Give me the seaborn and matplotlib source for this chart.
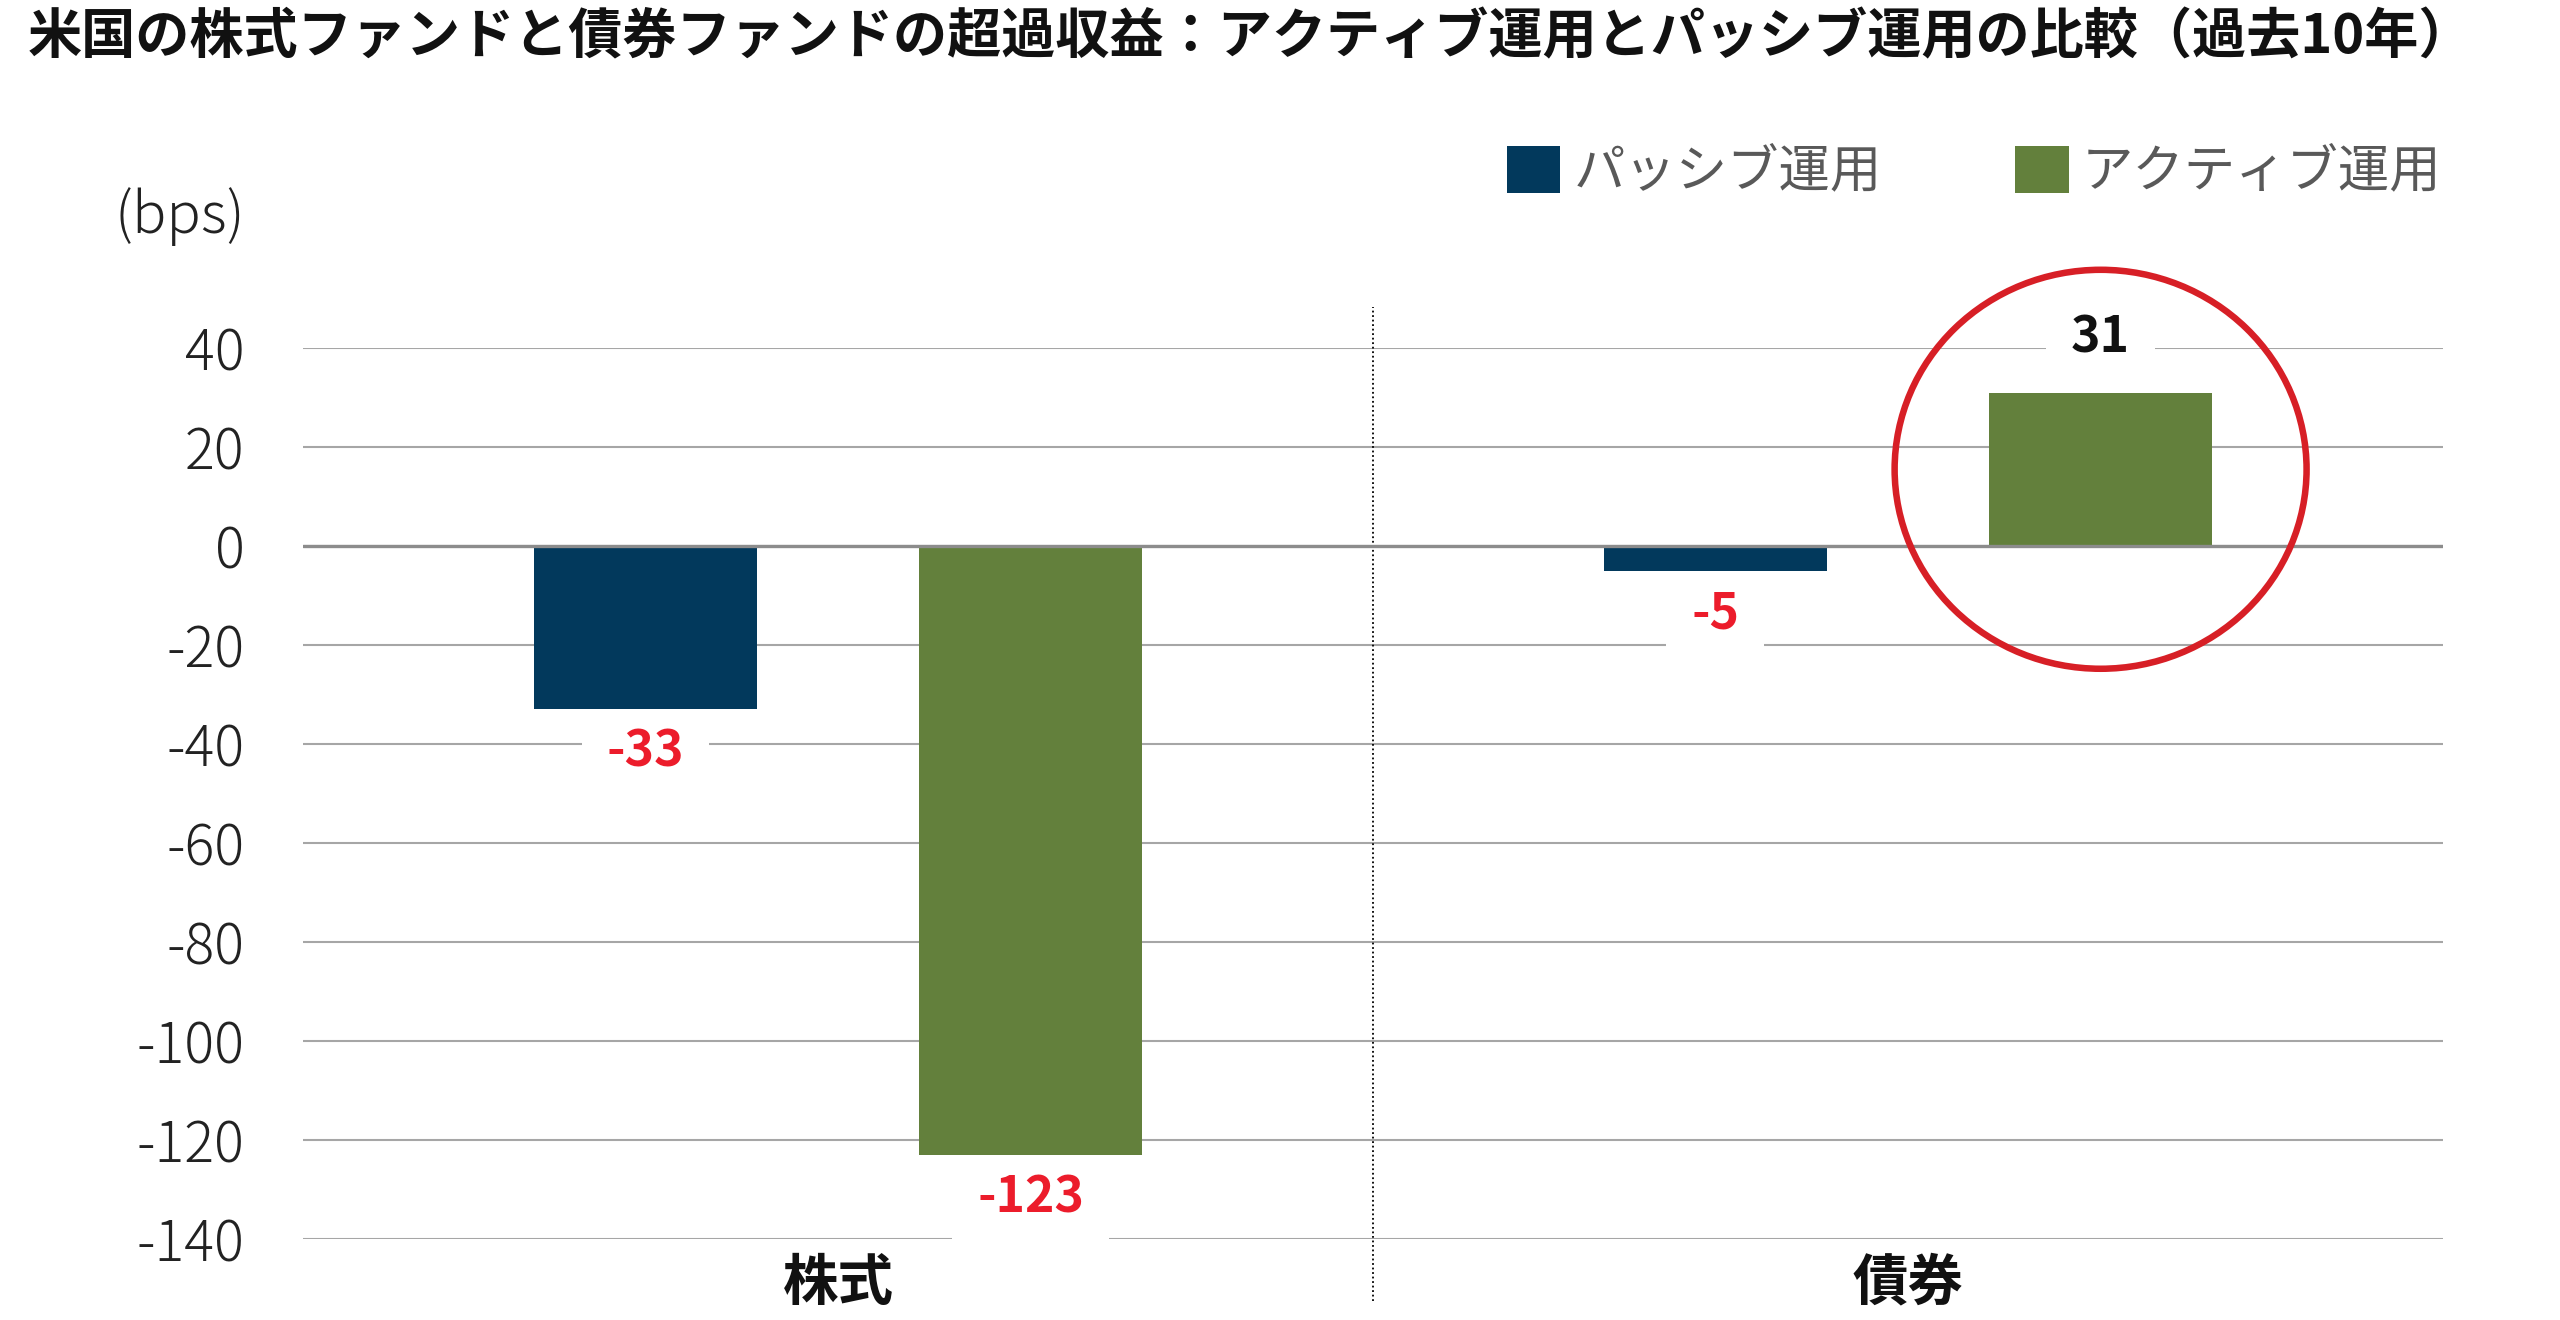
import numpy as np
import pandas as pd
import matplotlib
matplotlib.use("Agg")
import matplotlib.pyplot as plt
import matplotlib.transforms as mtransforms
from matplotlib.patches import Ellipse
import seaborn as sns

# ---- data ----
categories = ["株式", "債券"]
series_names = ["パッシブ運用", "アクティブ運用"]
passive_values = [-33, -5]
active_values = [-123, 31]
y_ticks = [40, 20, 0, -20, -40, -60, -80, -100, -120, -140]
title = "米国の株式ファンドと債券ファンドの超過収益：アクティブ運用とパッシブ運用の比較（過去10年）"
unit_label = "(bps)"

colors = ["#02395C", "#63803C"]

sns.set_style("white")
plt.rcParams["font.family"] = ["Noto Sans CJK JP", "DejaVu Sans"]
plt.rcParams["axes.unicode_minus"] = False

fig = plt.figure(figsize=(25.6, 13.2), dpi=100)
ax = fig.add_axes([303 / 2560, 1 - 1239 / 1320, (2443 - 303) / 2560, (1239 - 348) / 1320])

df = pd.DataFrame({
    "カテゴリ": categories * 2,
    "運用": [series_names[0]] * len(categories) + [series_names[1]] * len(categories),
    "値": passive_values + active_values,
})

sns.barplot(data=df, x="カテゴリ", y="値", hue="運用", order=categories,
            hue_order=series_names, palette=colors, width=0.72, gap=0.42,
            saturation=1, errorbar=None, ax=ax, linewidth=0)

for cont in ax.containers:
    for bar in cont:
        bar.set_zorder(2)

ax.set_xlim(-0.5, 1.5)
ax.set_ylim(-140, 40)
ax.set_yticks(y_ticks)
ax.set_yticklabels([str(v) for v in y_ticks])
ax.set_xlabel("")
ax.set_ylabel("")
sns.despine(ax=ax, left=True, bottom=True)

ax.yaxis.grid(True, color="#A6A6A6", lw=1.5)
ax.set_axisbelow(True)
ax.axhline(0, color="#8C8C8C", lw=2.4, zorder=2.5)

ax.tick_params(axis="y", length=0, pad=42, labelsize=40, labelcolor="#222222")
ax.tick_params(axis="x", length=0, pad=12, labelsize=40, labelcolor="#111111")
for t in ax.get_yticklabels():
    t.set_fontweight("light")
for t in ax.get_xticklabels():
    t.set_fontweight("bold")

# divider
trans = mtransforms.blended_transform_factory(ax.transData, ax.transAxes)
ax.plot([0.5, 0.5], [-0.07, 1.046], transform=trans, color="black",
        ls=(0, (1, 1.5)), lw=1.3, clip_on=False)

# value labels
for cont, vals in zip(ax.containers, [passive_values, active_values]):
    for bar, v in zip(cont, vals):
        x = bar.get_x() + bar.get_width() / 2
        y_end = bar.get_y() + bar.get_height()
        if v < 0:
            off, col = -31, "#EC1C2B"
        else:
            off, col = 39, "#111111"
        ax.annotate(str(v), xy=(x, y_end), xytext=(0, off), textcoords="offset points",
                    ha="center", va="center", fontsize=36, fontweight="bold", color=col,
                    bbox=dict(boxstyle="square,pad=0.5", fc="white", ec="none"), zorder=1)

# highlight circle around active bond bar
hb = ax.containers[1][1]
cx = hb.get_x() + hb.get_width() / 2
cy = (hb.get_y() + hb.get_y() + hb.get_height()) / 2
ax.add_patch(Ellipse((cx, cy), width=0.385, height=80.6, fill=False,
                     edgecolor="#D71F26", lw=4.7, zorder=6, clip_on=False))

# legend
handles, labels = ax.get_legend_handles_labels()
ax.legend(handles, labels, loc="center left", bbox_to_anchor=(1507 / 2560, 1 - 172 / 1320),
          bbox_transform=fig.transFigure, ncol=2, frameon=False, fontsize=37,
          handlelength=1.04, handleheight=1.04, handletextpad=0.25, columnspacing=2.6,
          borderpad=0, borderaxespad=0, labelcolor="#595959")

fig.text(245 / 2560, 1 - 217 / 1320, unit_label, ha="right", va="center",
         fontsize=41, fontweight="light", color="#222222")
fig.text(28 / 2560, 1 - 38 / 1320, title, ha="left", va="center",
         fontsize=39, fontweight="bold", color="#111111")

fig.savefig("out.png", dpi=100)
